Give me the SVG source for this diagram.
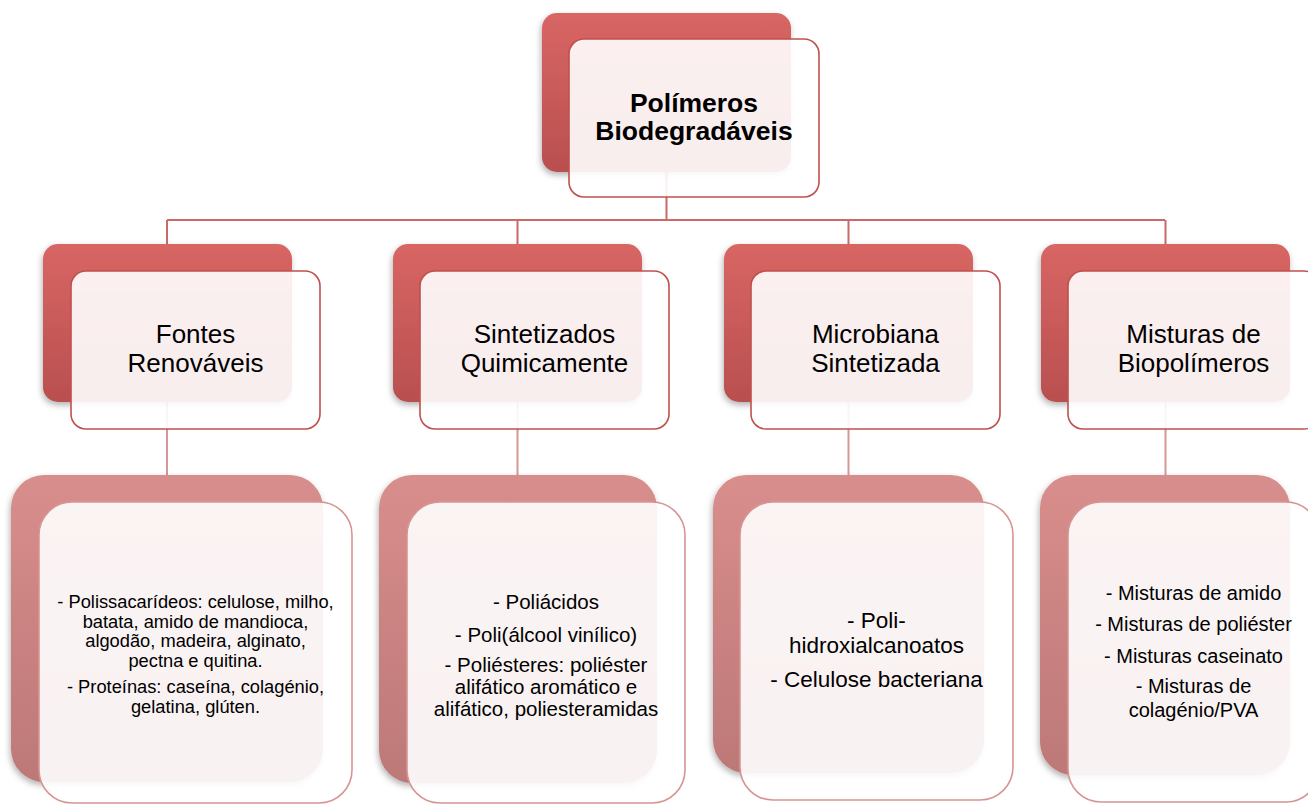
<svg xmlns="http://www.w3.org/2000/svg" width="1308" height="805" viewBox="0 0 1308 805">
<style>
.bk{fill:url(#gA);filter:url(#sh)}
.bk3{fill:url(#gB);filter:url(#sh)}
.fr{fill:#ffffff;fill-opacity:0.9;stroke:#C0504D;stroke-width:1.6}
.fr3{fill:#ffffff;fill-opacity:0.9;stroke:#D69593;stroke-width:1.6}
.ln{fill:none;stroke:#C96A68;stroke-width:2}
.ln3{fill:none;stroke:#D49896;stroke-width:2}
text{font-family:"Liberation Sans",Arial,sans-serif;fill:#000;text-anchor:middle}
.t1{font-size:26.5px;font-weight:bold}
.t2{font-size:26px}
</style>
<defs>
<linearGradient id="gA" x1="0" y1="0" x2="0" y2="1">
<stop offset="0" stop-color="#D86664"/>
<stop offset="1" stop-color="#B94F4F"/>
</linearGradient>
<linearGradient id="gB" x1="0" y1="0" x2="0" y2="1">
<stop offset="0" stop-color="#D88E8C"/>
<stop offset="1" stop-color="#BD7878"/>
</linearGradient>
<filter id="sh" x="-10%" y="-10%" width="120%" height="125%">
<feDropShadow dx="-1" dy="3" stdDeviation="3" flood-color="#000" flood-opacity="0.3"/>
</filter>
</defs>
<g id="connectors">
<path class="ln" d="M666.5 172 V220 M167 220 H1165 M167 220 V244 M517.5 220 V244 M848.5 220 V244 M1165.5 220 V244"/>
<path class="ln3" d="M167 402 V475 M517.5 402 V475 M848.5 402 V475 M1165.5 402 V475"/>
</g>
<g id="node-root">
<rect class="bk" x="542" y="13" width="249" height="159" rx="15"/>
<rect class="fr" x="569" y="39" width="250" height="158" rx="15"/>
<text class="t1" x="694" y="112">Polímeros</text>
<text class="t1" x="694" y="140">Biodegradáveis</text>
</g>
<g id="node-fontes">
<rect class="bk" x="43" y="244" width="249" height="158" rx="15"/>
<rect class="fr" x="71" y="271" width="249" height="158" rx="15"/>
<text class="t2" x="195.5" y="343">Fontes</text>
<text class="t2" x="195.5" y="372">Renováveis</text>
</g>
<g id="node-sintetizados">
<rect class="bk" x="393" y="244" width="249" height="158" rx="15"/>
<rect class="fr" x="420" y="271" width="249" height="158" rx="15"/>
<text class="t2" x="544.5" y="343">Sintetizados</text>
<text class="t2" x="544.5" y="372">Quimicamente</text>
</g>
<g id="node-microbiana">
<rect class="bk" x="724" y="244" width="249" height="158" rx="15"/>
<rect class="fr" x="751" y="271" width="249" height="158" rx="15"/>
<text class="t2" x="875.5" y="343">Microbiana</text>
<text class="t2" x="875.5" y="372">Sintetizada</text>
</g>
<g id="node-misturas">
<rect class="bk" x="1041" y="244" width="249" height="158" rx="15"/>
<rect class="fr" x="1068" y="271" width="251" height="158" rx="15"/>
<text class="t2" x="1193.5" y="343">Misturas de</text>
<text class="t2" x="1193.5" y="372">Biopolímeros</text>
</g>
<g id="node-fontes-detail">
<rect class="bk3" x="11" y="475" width="312" height="307" rx="33"/>
<rect class="fr3" x="39" y="502" width="313" height="301" rx="33"/>
<g style="font-size:18.3px">
<text x="195.5" y="608">- Polissacarídeos: celulose, milho,</text>
<text x="195.5" y="627.5">batata, amido de mandioca,</text>
<text x="195.5" y="647">algodão, madeira, alginato,</text>
<text x="195.5" y="667">pectna e quitina.</text>
<text x="195.5" y="693">- Proteínas: caseína, colagénio,</text>
<text x="195.5" y="712.5">gelatina, glúten.</text>
</g>
</g>
<g id="node-sintetizados-detail">
<rect class="bk3" x="379" y="475" width="278" height="308" rx="33"/>
<rect class="fr3" x="407" y="502" width="278" height="301" rx="33"/>
<g style="font-size:20.5px">
<text x="546" y="609">- Poliácidos</text>
<text x="546" y="642">- Poli(álcool vinílico)</text>
<text x="546" y="672">- Poliésteres: poliéster</text>
<text x="546" y="693.5">alifático aromático e</text>
<text x="546" y="715.5">alifático, poliesteramidas</text>
</g>
</g>
<g id="node-microbiana-detail">
<rect class="bk3" x="713" y="475" width="271" height="298" rx="33"/>
<rect class="fr3" x="740" y="502" width="273" height="298" rx="33"/>
<g style="font-size:22.5px">
<text x="876.5" y="628">- Poli-</text>
<text x="876.5" y="653">hidroxialcanoatos</text>
<text x="876.5" y="687">- Celulose bacteriana</text>
</g>
</g>
<g id="node-misturas-detail">
<rect class="bk3" x="1040" y="475" width="250" height="300" rx="33"/>
<rect class="fr3" x="1068" y="502" width="251" height="300" rx="33"/>
<g style="font-size:20px">
<text x="1193.5" y="600">- Misturas de amido</text>
<text x="1193.5" y="631">- Misturas de poliéster</text>
<text x="1193.5" y="663">- Misturas caseinato</text>
<text x="1193.5" y="693">- Misturas de</text>
<text x="1193.5" y="717">colagénio/PVA</text>
</g>
</g>
</svg>
